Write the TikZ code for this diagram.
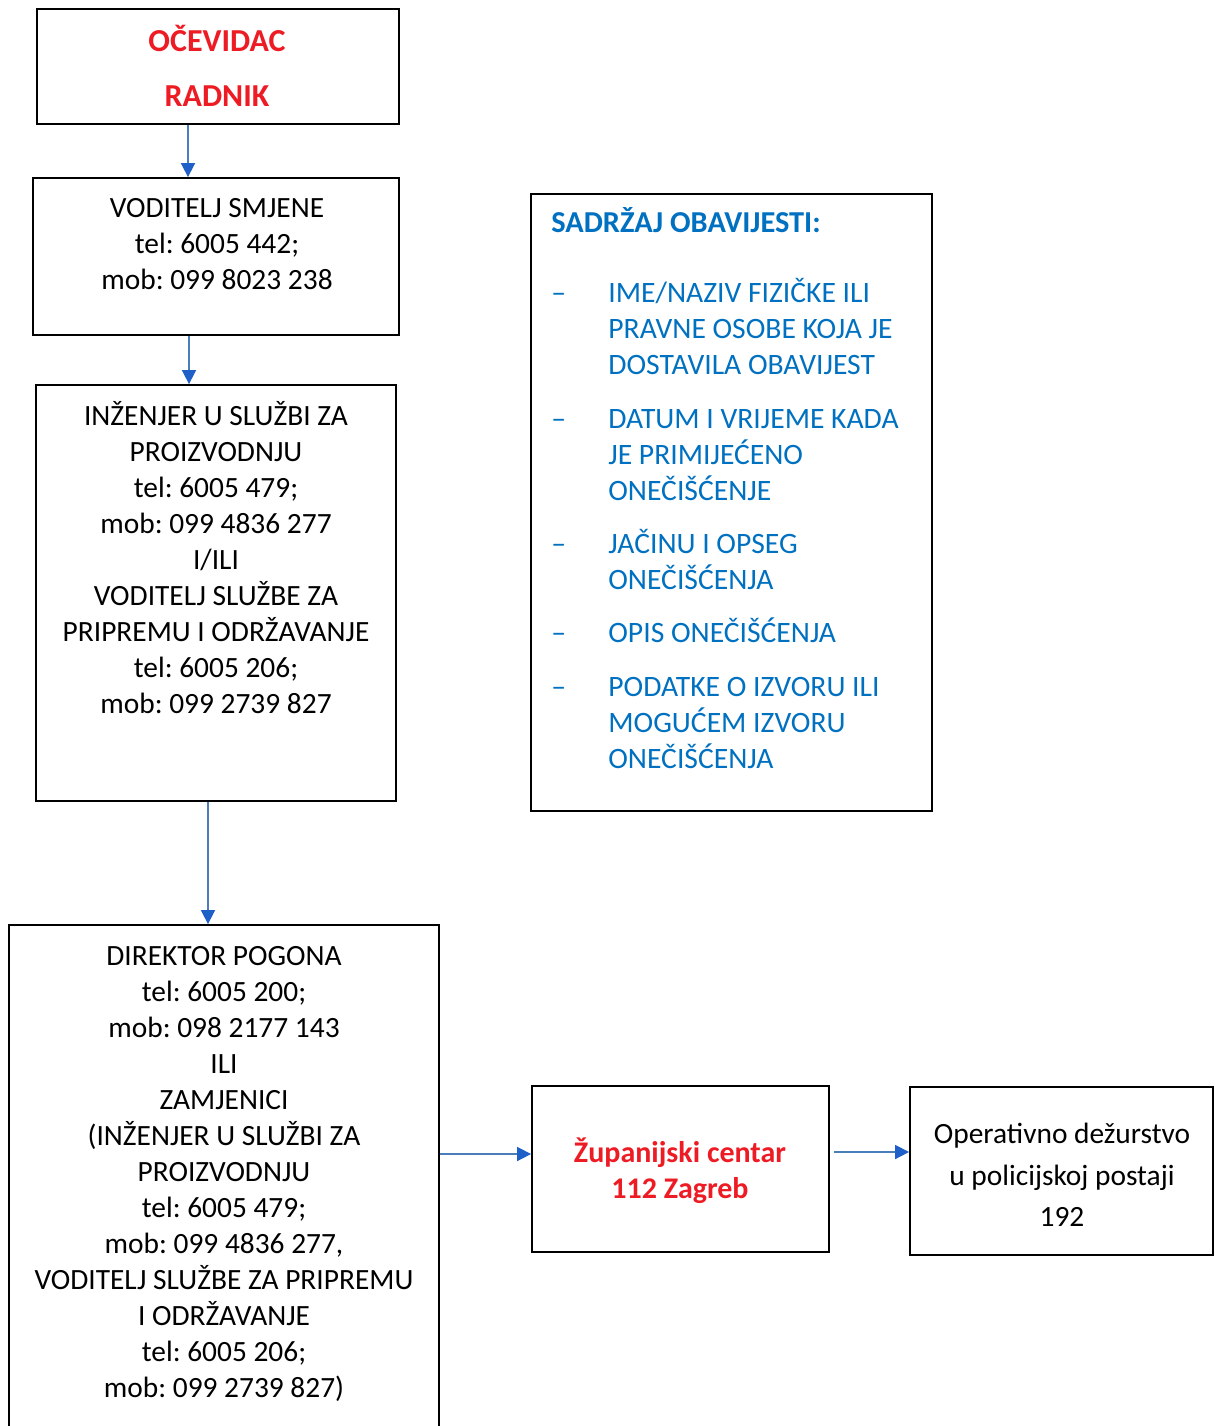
\documentclass[tikz,border=0pt]{standalone}
\usepackage{fontspec}
\setmainfont{Carlito}
\usepackage{tikz}
\usepackage{xcolor}
\usetikzlibrary{positioning, fit, arrows.meta}
\frenchspacing

\definecolor{alarmred}{HTML}{ED1C24}
\definecolor{infoblue}{HTML}{0070C0}
\definecolor{arrowline}{HTML}{4A7EBB}
\definecolor{arrowtip}{HTML}{1F5FC8}

\tikzset{
  box/.style={draw, line width=0.9pt, rectangle, inner sep=0pt},
  txt/.style={align=center, inner sep=0pt, font=\fontsize{14.7}{18}\selectfont},
  redtxt/.style={txt, text=alarmred, font=\fontsize{15}{18}\selectfont\bfseries},
  item/.style={anchor=base west, align=left, inner sep=0pt, text=infoblue, font=\fontsize{14.8}{18}\selectfont},
  flow/.style={draw=arrowline, line width=0.8pt, -{Triangle[width=7pt,length=7pt,color=arrowtip]}}
}

\begin{document}
\begin{tikzpicture}[x=0.5pt, y=-0.5pt]
                    \useasboundingbox (0,0) rectangle (1215,1426);

                    % Boxes of the reporting chain
                    \node[box, fit={(37,9) (399,124)}] (ocevidac) {};
                    \node[box, fit={(33,178) (399,335)}] (smjena) {};
                    \node[box, fit={(36,385) (396,801)}] (inzenjer) {};
                    \node[box, fit={(9,925) (439,1450)}] (direktor) {};
                    \node[box, fit={(532,1086) (829,1252)}] (zupanija) {};
                    \node[box, fit={(910,1087) (1213,1255)}] (policija) {};
                    \node[box, fit={(531,194) (932,811)}] (sadrzaj) {};

                    % Texts inside the boxes
                    \node[redtxt, font=\fontsize{16}{18}\selectfont\bfseries] (ocevidacT) at (217,66) {OČEVIDAC\\[9.5pt]RADNIK};
                    \node[txt] (smjenaT) at (217,244) {VODITELJ SMJENE\\tel: 6005 442;\\mob: 099 8023 238};
                    \node[txt] (inzenjerT) at (216,558) {INŽENJER U SLUŽBI ZA\\PROIZVODNJU\\tel: 6005 479;\\mob: 099 4836 277\\I/ILI\\VODITELJ SLUŽBE ZA\\PRIPREMU I ODRŽAVANJE\\tel: 6005 206;\\mob: 099 2739 827};
                    \node[txt] (direktorT) at (224,1174) {DIREKTOR POGONA\\tel: 6005 200;\\mob: 098 2177 143\\ILI\\ZAMJENICI\\(INŽENJER U SLUŽBI ZA\\PROIZVODNJU\\tel: 6005 479;\\mob: 099 4836 277,\\VODITELJ SLUŽBE ZA PRIPREMU\\I ODRŽAVANJE\\tel: 6005 206;\\mob: 099 2739 827)};
                    \node[redtxt] (zupanijaT) at (680,1171) {Županijski centar\\112 Zagreb};
                    \node[txt] (policijaT) at (1062,1175) {Operativno dežurstvo\\[2.75pt]u policijskoj postaji\\[2.75pt]192};

                    % Contents of the notice (placed at the baseline of the last line)
                    \node[item, font=\fontsize{15.2}{18}\selectfont\bfseries] (naslov) at (551,232) {SADRŽAJ OBAVIJESTI:};
                    \node[item] (ime) at (608,374) {IME/NAZIV FIZIČKE ILI\\PRAVNE OSOBE KOJA JE\\DOSTAVILA OBAVIJEST};
                    \node[item] (datum) at (608,500) {DATUM I VRIJEME KADA\\JE PRIMIJEĆENO\\ONEČIŠĆENJE};
                    \node[item] (jacina) at (608,589) {JAČINU I OPSEG\\ONEČIŠĆENJA};
                    \node[item] (opis) at (608,642) {OPIS ONEČIŠĆENJA};
                    \node[item] (podaci) at (608,768) {PODATKE O IZVORU ILI\\MOGUĆEM IZVORU\\ONEČIŠĆENJA};
                    \foreach \n/\k in {ime/2, datum/2, jacina/1, opis/0, podaci/2}
                        \node[item] at ([yshift=\k*18pt]\n.base west -| 551,0) {–};

                    % Arrows
                    \draw[flow] (ocevidac.south -| 188,0) -- (smjena.north -| 188,0);
                    \draw[flow] (smjena.south -| 189,0) -- (inzenjer.north -| 189,0);
                    \draw[flow] (inzenjer.south -| 208,0) -- (direktor.north -| 208,0);
                    \draw[flow] (direktor.east |- 0,1154) -- (zupanija.west |- 0,1154);
                    \draw[flow] (zupanija.east |- 0,1152) ++(4,0) -- (policija.west |- 0,1152);

                \end{tikzpicture}
\end{document}
